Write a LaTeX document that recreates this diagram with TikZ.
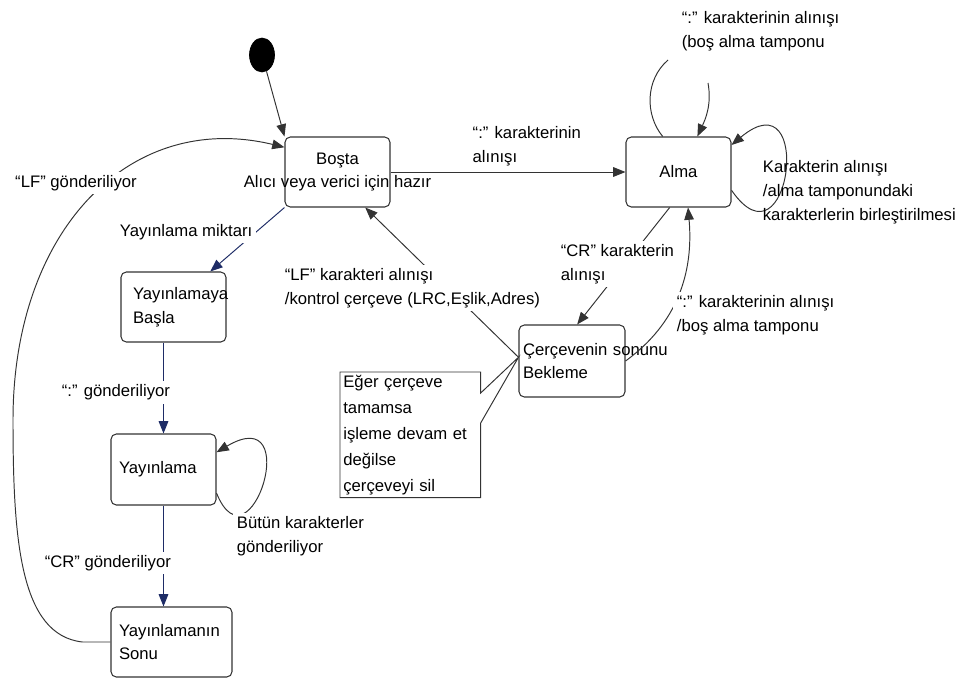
\documentclass[tikz,border=0pt]{standalone}
\usepackage{fontspec}
\setmainfont{Liberation Sans}
\usetikzlibrary{arrows.meta,positioning,calc,shapes.geometric}
\definecolor{Edge}{HTML}{333333}
\definecolor{Navy}{HTML}{1E2C66}
\hyphenpenalty=10000
\hbadness=10000
\hfuzz=\maxdimen
\tikzset{
  state/.style={draw=Edge,rounded corners=3pt,line width=.6pt,minimum width=2.1cm,minimum height=1.4cm,inner xsep=.16cm,inner ysep=0pt,align=left},
  notebox/.style={anchor=north west,align=left,inner xsep=.06cm,inner ysep=0pt},
  lbl/.style={align=left,inner sep=2pt},
  trans/.style={-{Triangle[length=7pt,width=5.5pt]},draw=Edge,line width=.55pt},
  send/.style={trans,draw=Navy},
  hook/.style={draw=Edge,line width=.55pt}
}

\begin{document}
\begin{tikzpicture}[x=.02cm,y=-.02cm,font=\fontsize{9.5}{13.5}\selectfont]
  \useasboundingbox (0,0) rectangle (962,680);
  % states
  \node[draw=black,fill=black,ellipse,minimum width=.5cm,minimum height=.68cm,inner sep=0pt] (start) at (262,55) {};
  \node[state,align=center] (bosta) at (337.5,172) {Boşta\\\makebox[0pt]{Alıcı veya verici için hazır}};
  \node[state,align=center] (alma) at (678.5,172) {Alma};
  \node[state,inner xsep=.24cm,text width=1.62cm] (basla) at (173.5,307) {Yayınlamaya\\Başla};
  \node[state,text width=1.78cm,minimum height=1.42cm] (yayin) at (163.5,469.5) {Yayınlama};
  \node[state,minimum width=2.42cm,text width=2.1cm] (sonu) at (171.5,642) {Yayınlamanın\\Sonu};
  \node[state,inner xsep=.08cm,minimum width=2.12cm,minimum height=1.44cm,text width=1.96cm] (cerc) at (572,361) {\mbox{Çerçevenin sonunu}\\Bekleme};
  \node[notebox,minimum width=2.8cm,minimum height=2.5cm,text width=2.68cm,font=\fontsize{9.5}{14.8}\selectfont] (note) at (340,372) {Eğer çerçeve\\tamamsa\\işleme devam et\\değilse\\çerçeveyi sil};
  % note outline, opened on the right towards the state
  \draw[hook] ($(note.north east)+(0,21)$) -- (note.north east) -- (note.north west)
    -- (note.south west) -- (note.south east) -- ($(note.north east)+(0,51)$) -- (cerc.176) -- cycle;

  % receiving side
  \draw[trans] (start) -- (bosta.north west);
  \draw[trans] (bosta) -- node[lbl,above=1pt,pos=.58] (recv) {“:” karakterinin\\alınışı} (alma);
  \draw[hook] (alma.114) .. controls (645,115) and (645,80) .. (668,60);
  \draw[trans] (708,83) .. controls (712,105) and (705,120) .. (alma.62);
  \node[lbl,anchor=west] (clear) at (678,31) {“:” karakterinin alınışı\\(boş alma tamponu};
  \draw[trans] (alma.-19) .. controls (790,275) and (815,75) .. (alma.27);
  \node[lbl,anchor=west] (merge) at (759,192) {Karakterin alınışı\\/alma tamponundaki\\karakterlerin birleştirilmesi};
  \draw[trans] (alma.-104) -- (cerc.82);
  \node[lbl,fill=white,anchor=west] (crrecv) at (557,264) {“CR” karakterin\\alınışı};
  \draw[trans] (cerc.east) to[out=36,in=-85] (alma.-75);
  \node[lbl,fill=white,anchor=west] (restart) at (673,315) {“:” karakterinin alınışı\\/boş alma tamponu};
  \draw[trans] (cerc.176) -- (bosta.-52);
  \node[lbl,fill=white,anchor=west] (check) at (281,288) {“LF” karakteri alınışı\\/kontrol çerçeve (LRC,Eşlik,Adres)};

  % sending side
  \draw[send] (bosta.south west) -- node[lbl,fill=white,anchor=east,pos=.38] (amount) {Yayınlama miktarı} (basla.44);
  \draw[send] (yayin.north |- basla.south) -- node[lbl,fill=white,pos=.55,anchor=east,xshift=6pt] (colon) {“:” gönderiliyor} (yayin.north);
  \draw[trans] (yayin.-24) .. controls (250,575) and (305,400) .. (yayin.18);
  \node[lbl,fill=white,anchor=west] (sendall) at (233,536) {Bütün karakterler\\gönderiliyor};
  \draw[send] (yayin.south) -- node[lbl,fill=white,pos=.57,anchor=east,xshift=6.5pt] (crsend) {“CR” gönderiliyor} (yayin.south |- sonu.north);
  \coordinate (lfturn) at (13,420);
  \draw[trans] (sonu.west) -- ++(-28,0) .. controls (20,635) and (13,540) .. (lfturn) .. controls (13,230) and (130,110) .. (bosta.155);
  \node[lbl,fill=white] (lfsend) at (76,183) {“LF” gönderiliyor};
\end{tikzpicture}
\end{document}
